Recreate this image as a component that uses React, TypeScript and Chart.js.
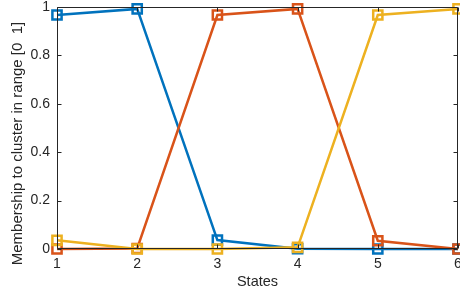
import React, { useEffect, useRef } from "react";
import { Chart, registerables } from "chart.js";

Chart.register(...registerables);

const states = [1, 2, 3, 4, 5, 6];
const cluster1 = [0.967, 0.992, 0.037, 0.001, 0.0, 0.0];
const cluster2 = [0.0, 0.002, 0.967, 0.992, 0.034, 0.0];
const cluster3 = [0.036, 0.0, 0.0, 0.007, 0.967, 0.992];
const yTicks = [0, 0.2, 0.4, 0.6, 0.8, 1];
const xLabel = "States";
const yLabel = "Membership to cluster in range [0  1]";

const FONT = "'Liberation Sans', Arial, Helvetica, sans-serif";
const AX = "#262626";

const boxPlugin = {
  id: "matlabBox",
  afterDraw(chart: any) {
    const { ctx, chartArea } = chart;
    const { left, right, top, bottom } = chartArea;
    const L = Math.round(left) + 0.5;
    const R = Math.round(right) - 0.5;
    const T = Math.round(top) + 0.5;
    const B = Math.round(bottom) - 0.5;
    ctx.save();
    ctx.strokeStyle = AX;
    ctx.lineWidth = 1;
    ctx.beginPath();
    ctx.rect(L, T, R - L, B - T);
    ctx.stroke();
    const tl = 4;
    const xs = chart.scales.x;
    const ys = chart.scales.y;
    ctx.beginPath();
    for (const v of states) {
      const px = Math.round(xs.getPixelForValue(v)) + 0.5;
      ctx.moveTo(px, B);
      ctx.lineTo(px, B - tl);
      ctx.moveTo(px, T);
      ctx.lineTo(px, T + tl);
    }
    for (const v of yTicks) {
      const py = Math.round(ys.getPixelForValue(v)) + 0.5;
      ctx.moveTo(L, py);
      ctx.lineTo(L + tl, py);
      ctx.moveTo(R, py);
      ctx.lineTo(R - tl, py);
    }
    ctx.stroke();
    // y-axis title
    ctx.translate(17.5, 143.5);
    ctx.rotate(-Math.PI / 2);
    ctx.fillStyle = AX;
    ctx.font = "15px " + FONT;
    ctx.textAlign = "center";
    ctx.textBaseline = "middle";
    ctx.fillText(yLabel, 0, 0);
    ctx.restore();
  },
};

function mk(label: string, vals: number[], color: string) {
  return {
    label,
    data: states.map((s, i) => ({ x: s, y: vals[i] })),
    borderColor: color,
    backgroundColor: "rgba(0,0,0,0)",
    borderWidth: 2.5,
    pointStyle: "rect" as const,
    pointRadius: 6.5,
    pointBorderWidth: 2.5,
    pointBorderColor: color,
    pointBackgroundColor: "rgba(0,0,0,0)",
    tension: 0,
    clip: false as any,
  };
}

export default function App() {
  const ref = useRef<HTMLCanvasElement>(null);
  useEffect(() => {
    if (!ref.current) return;
    const chart = new Chart(ref.current, {
      type: "line",
      data: {
        datasets: [
          mk("Cluster 3", cluster3, "#EDB120"),
          mk("Cluster 2", cluster2, "#D95319"),
          mk("Cluster 1", cluster1, "#0072BD"),
        ],
      },
      options: {
        animation: false,
        responsive: false,
        maintainAspectRatio: false,
        layout: { autoPadding: false, padding: { top: 7, right: 2, left: 0, bottom: 0 } },
        plugins: { legend: { display: false }, tooltip: { enabled: false } },
        scales: {
          x: {
            type: "linear",
            min: 1,
            max: 6,
            afterBuildTicks: (s: any) => {
              s.ticks = states.map((v) => ({ value: v }));
            },
            afterFit: (s: any) => {
              s.height = 45;
              s.paddingLeft = 0;
              s.paddingRight = 0;
            },
            grid: { display: false, drawTicks: false },
            border: { display: false },
            ticks: {
              color: AX,
              padding: 7,
              maxRotation: 0,
              autoSkip: false,
              font: { family: FONT, size: 14 },
            },
            title: {
              display: true,
              text: xLabel,
              color: AX,
              font: { family: FONT, size: 14.5 },
              padding: { top: 0, bottom: 3 },
            },
          },
          y: {
            type: "linear",
            min: 0,
            max: 1,
            afterBuildTicks: (s: any) => {
              s.ticks = yTicks.map((v) => ({ value: v }));
            },
            afterFit: (s: any) => {
              s.width = 57;
              s.paddingTop = 0;
              s.paddingBottom = 0;
            },
            grid: { display: false, drawTicks: false },
            border: { display: false },
            ticks: {
              color: AX,
              padding: 7,
              autoSkip: false,
              font: { family: FONT, size: 14 },
              callback: (v: any) => String(Number(v)),
            },
            title: { display: false, text: yLabel },
          },
        },
      },
      plugins: [boxPlugin],
    });
    return () => chart.destroy();
  }, []);
  return (
    <div style={{ position: "absolute", left: 0, top: 0, width: 460, height: 294, background: "#fff" }}>
      <canvas ref={ref} width={460} height={294} style={{ width: 460, height: 294, display: "block" }} />
    </div>
  );
}
